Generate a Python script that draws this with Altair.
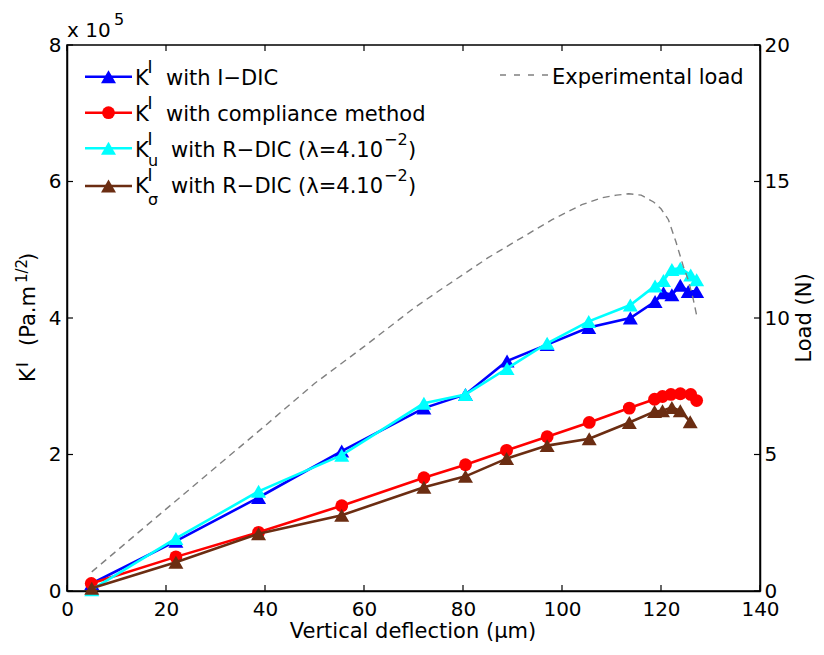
import altair as alt
import pandas as pd

# ---------------- data ----------------
# Vertical deflection (µm) and K^I values (in units of 1e5 Pa.m^1/2)
x_idic = [5, 22, 38.7, 55.5, 72.1, 80.5, 88.9, 97, 105.4, 113.8, 118.8, 120.5, 122.2, 123.9, 125.5, 127.2]
k_idic = [0.11, 0.73, 1.37, 2.05, 2.68, 2.88, 3.37, 3.61, 3.86, 4.00, 4.24, 4.37, 4.34, 4.48, 4.39, 4.39]

x_comp = [4.9, 22, 38.7, 55.5, 72.1, 80.5, 88.8, 97, 105.5, 113.6, 118.7, 120.3, 122.0, 123.9, 126.0, 127.2]
k_comp = [0.11, 0.50, 0.86, 1.25, 1.66, 1.85, 2.06, 2.26, 2.47, 2.68, 2.81, 2.85, 2.88, 2.89, 2.88, 2.79]

x_ru = [5, 22, 38.7, 55.5, 72.1, 80.5, 88.9, 97, 105.4, 113.8, 118.8, 120.5, 122.2, 123.9, 126.0, 127.2]
k_ru = [0.02, 0.77, 1.46, 1.99, 2.75, 2.88, 3.26, 3.63, 3.95, 4.19, 4.47, 4.55, 4.71, 4.73, 4.63, 4.56]

x_rs = [5, 22, 38.7, 55.5, 72.1, 80.5, 88.8, 97, 105.5, 113.6, 118.7, 120.3, 122.2, 123.9, 125.9]
k_rs = [0.04, 0.42, 0.84, 1.11, 1.52, 1.68, 1.94, 2.13, 2.23, 2.47, 2.63, 2.64, 2.69, 2.64, 2.48]

# Experimental load (N)
x_load = [5, 20, 40, 50, 60, 70, 75, 85, 91, 98, 104, 108, 111, 113.5, 116, 118.5, 120, 121.5, 123, 124.5, 125.5, 126.5, 127.2]
load = [0.7, 3.0, 6.05, 7.6, 8.95, 10.35, 10.98, 12.2, 12.85, 13.6, 14.15, 14.4, 14.5, 14.55, 14.5, 14.25, 14.0, 13.6, 12.8, 11.9, 11.4, 10.7, 10.1]

x_ticks = [0, 20, 40, 60, 80, 100, 120, 140]
k_ticks = [0, 2, 4, 6, 8]          # x 1e5
load_ticks = [0, 5, 10, 15, 20]
K_FACTOR = 1e5

series_labels = ["with I\u2212DIC", "with compliance method",
                 "with R\u2212DIC (\u03bb=4.10", "with R\u2212DIC (\u03bb=4.10"]
load_label = "Experimental load"

# ---------------- layout ----------------
FONT = "DejaVu Sans"
W, H = 693, 546
L0, T0 = 67, 45       # plot origin on the page
PAD = {"left": 59, "top": 37, "right": 56, "bottom": 52}

BLUE, RED, CYAN, BROWN, GREY = "#0000ff", "#ff0000", "#00ffff", "#6b2d12", "#808080"
TRI, CIRC = 225, 165

x_scale = alt.Scale(domain=[0, 140], nice=False, zero=False)
k_scale = alt.Scale(domain=[0, 8 * K_FACTOR], nice=False, zero=False)
load_scale = alt.Scale(domain=[0, 20], nice=False, zero=False)

x_axis = alt.Axis(values=x_ticks, ticks=False, grid=False, labelFont=FONT, labelFontSize=20,
                  labelColor="black", labelPadding=8, labelFlush=False, labelOverlap=False,
                  domainColor="black", domainWidth=1.5, title=None)
k_axis = alt.Axis(orient="left", values=[v * K_FACTOR for v in k_ticks], labelExpr="datum.value/100000",
                  ticks=False, grid=False, labelFont=FONT, labelFontSize=20, labelColor="black",
                  labelPadding=6, labelFlush=False, labelOverlap=False,
                  domainColor="black", domainWidth=1.5, title=None)
load_axis = alt.Axis(orient="right", values=load_ticks, ticks=False, grid=False, labelFont=FONT,
                     labelFontSize=20, labelColor="black", labelPadding=4, labelFlush=False,
                     labelOverlap=False, domainColor="black", domainWidth=1.5, title=None)

one = alt.Data(values=[{"a": 1}])


def px(x):
    return x - L0


def py(y):
    return y - T0


def txt(s, x, y, size=21, angle=0, align="left", baseline="alphabetic"):
    return alt.Chart(one).mark_text(text=s, font=FONT, fontSize=size, angle=angle, align=align,
                                    baseline=baseline, color="black").encode(
        x=alt.value(px(x)), y=alt.value(py(y)))


def series(xs, ks, color, shape, size):
    df = pd.DataFrame({"deflection": xs, "K": [k * K_FACTOR for k in ks]})
    base = alt.Chart(df).encode(
        x=alt.X("deflection:Q", scale=x_scale, axis=x_axis),
        y=alt.Y("K:Q", scale=k_scale, axis=k_axis))
    return [base.mark_line(color=color, strokeWidth=2.6),
            base.mark_point(shape=shape, filled=True, size=size, color=color, opacity=1)]


# inward ticks
xt = pd.DataFrame({"t": x_ticks})
kt = pd.DataFrame({"t": [v * K_FACTOR for v in k_ticks]})
lt = pd.DataFrame({"t": load_ticks})
tick_bottom = alt.Chart(xt).mark_rule(color="black", strokeWidth=1.2).encode(
    x=alt.X("t:Q", scale=x_scale, axis=x_axis), y=alt.value(H), y2=alt.value(H - 6))
tick_top = alt.Chart(xt).mark_rule(color="black", strokeWidth=1.2).encode(
    x=alt.X("t:Q", scale=x_scale, axis=x_axis), y=alt.value(0), y2=alt.value(6))
tick_left = alt.Chart(kt).mark_rule(color="black", strokeWidth=1.2).encode(
    y=alt.Y("t:Q", scale=k_scale, axis=k_axis), x=alt.value(0), x2=alt.value(6))
tick_right = alt.Chart(lt).mark_rule(color="black", strokeWidth=1.2).encode(
    y=alt.Y("t:Q", scale=load_scale, axis=load_axis), x=alt.value(W - 6), x2=alt.value(W))

k_layers = [tick_bottom, tick_top, tick_left]
k_layers += series(x_idic, k_idic, BLUE, "triangle-up", TRI)
k_layers += series(x_comp, k_comp, RED, "circle", CIRC)
k_layers += series(x_ru, k_ru, CYAN, "triangle-up", TRI)
k_layers += series(x_rs, k_rs, BROWN, "triangle-up", TRI)
k_group = alt.layer(*k_layers)

load_df = pd.DataFrame({"deflection": x_load, "load": load})
load_line = alt.Chart(load_df).mark_line(color=GREY, strokeWidth=1.4, strokeDash=[7, 5]).encode(
    x=alt.X("deflection:Q", scale=x_scale, axis=x_axis),
    y=alt.Y("load:Q", scale=load_scale, axis=load_axis))
load_group = alt.layer(load_line, tick_right)

# ---------------- decorations: legend and titles ----------------
decor = []
# legend samples
rows = [(76.7, BLUE, "triangle-up", TRI), (112.7, RED, "circle", CIRC),
        (148.3, CYAN, "triangle-up", TRI), (186.0, BROWN, "triangle-up", TRI)]
for yc, col, shp, sz in rows:
    decor.append(alt.Chart(one).mark_rule(color=col, strokeWidth=2.6).encode(
        x=alt.value(px(85)), x2=alt.value(px(132)), y=alt.value(py(yc))))
    decor.append(alt.Chart(one).mark_point(shape=shp, filled=True, size=sz, color=col, opacity=1).encode(
        x=alt.value(px(108.5)), y=alt.value(py(yc))))
decor.append(alt.Chart(one).mark_rule(color=GREY, strokeWidth=1.4, strokeDash=[6, 8]).encode(
    x=alt.value(px(500)), x2=alt.value(px(548)), y=alt.value(py(75))))
decor.append(txt(load_label, 552, 84))

bases = [85, 121, 156.7, 193.3]
for i, b in enumerate(bases):
    decor.append(txt("K", 135, b))
    decor.append(txt("I", 147.5, b - 12, size=17))
    decor.append(txt(series_labels[i], 166 if i < 2 else 171, b))
decor.append(txt("u", 148, 165.5, size=16))
decor.append(txt("\u03c3", 148, 204.5, size=16))
for b in bases[2:]:
    decor.append(txt("\u22122", 384, b - 12, size=16))
    decor.append(txt(")", 408, b))

# axis multiplier
decor.append(txt("x 10", 67, 37, size=20))
decor.append(txt("5", 114, 25, size=16))

# left axis title (rotated)
decor.append(txt("K", 35, 382, angle=270))
decor.append(txt("I", 28, 367, size=16, angle=270))
decor.append(txt("(Pa.m", 35, 346, angle=270))
decor.append(txt("1/2", 27, 283, size=15, angle=270))
decor.append(txt(")", 35, 261, angle=270))

# right axis title and x title
decor.append(txt("Load (N)", 811, 318, angle=270, align="center"))
decor.append(txt("Vertical deflection (\u00b5m)", 413, 638, align="center"))

chart = alt.layer(k_group, load_group, *decor).resolve_scale(y="independent").properties(
    width=W, height=H, autosize=alt.AutoSizeParams(type="none"), padding=PAD
).configure_view(stroke="black", strokeWidth=1.5)

chart.save("out.html", embed_options={"renderer": "svg", "actions": False})
